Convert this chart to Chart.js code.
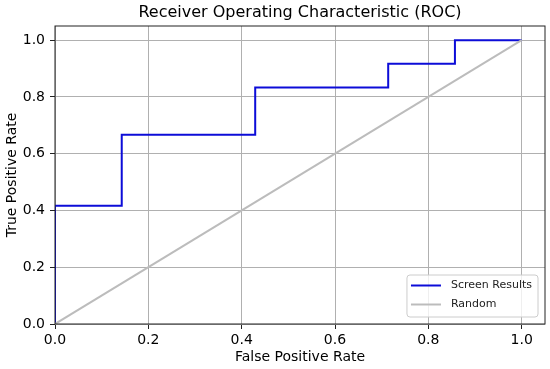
<!DOCTYPE html>
<html>
<head>
<meta charset="utf-8">
<script src="https://cdn.jsdelivr.net/npm/chart.js@4.4.0/dist/chart.umd.min.js"></script>
<style>
  html, body { margin: 0; padding: 0; background: #fff; }
</style>
</head>
<body>
<canvas id="rocChart" width="550" height="369"></canvas>
<script>
// ROC curve points (step curve as returned by roc_curve)
var fpr = [0, 0, 0.143, 0.143, 0.429, 0.429, 0.714, 0.714, 0.857, 0.857, 1.0];
var tpr = [0, 0.417, 0.417, 0.667, 0.667, 0.833, 0.833, 0.917, 0.917, 1.0, 1.0];
// diagonal reference
var randomX = [0, 1];
var randomY = [0, 1];

var xTicks = [0, 0.2, 0.4, 0.6, 0.8, 1.0];
var yTicks = [0, 0.2, 0.4, 0.6, 0.8, 1.0];
var axisMax = 1.05;

var chartTitle = 'Receiver Operating Characteristic (ROC)';
var xLabel = 'False Positive Rate';
var yLabel = 'True Positive Rate';
var seriesNames = ['Screen Results', 'Random'];
var seriesColors = ['#0c0cd8', '#bcbcbc'];

var FONT = '"DejaVu Sans", sans-serif';

function points(xs, ys) {
  return xs.map(function(x, i) { return { x: x, y: ys[i] }; });
}

// frame, title and legend the matplotlib way
var decorPlugin = {
  id: 'decor',
  afterDraw: function(chart) {
    var ctx = chart.ctx, a = chart.chartArea;
    ctx.save();

    ctx.strokeStyle = '#222';
    ctx.lineWidth = 1;
    ctx.strokeRect(a.left, a.top, a.right - a.left, a.bottom - a.top);

    ctx.fillStyle = '#000';
    ctx.font = '16px ' + FONT;
    ctx.textAlign = 'center';
    ctx.textBaseline = 'middle';
    ctx.fillText(chartTitle, (a.left + a.right) / 2, 13);

    // legend, lower right
    ctx.font = '11px ' + FONT;
    var ds = chart.data.datasets;
    var tw = 0;
    ds.forEach(function(d) { tw = Math.max(tw, ctx.measureText(d.label).width); });
    var w = 44 + tw + 6, h = 42;
    var right = a.right - 7, bottom = a.bottom - 7;
    var left = right - w, top = bottom - h;
    ctx.beginPath();
    ctx.roundRect(left, top, w, h, 3);
    ctx.fillStyle = 'rgba(255,255,255,0.8)';
    ctx.fill();
    ctx.strokeStyle = '#cccccc';
    ctx.stroke();

    ctx.textAlign = 'left';
    ds.forEach(function(d, i) {
      var y = top + 10.5 + i * 19;
      ctx.beginPath();
      ctx.moveTo(left + 4, y);
      ctx.lineTo(left + 34, y);
      ctx.strokeStyle = d.borderColor;
      ctx.lineWidth = 2;
      ctx.stroke();
      ctx.fillStyle = '#222';
      ctx.fillText(d.label, left + 44, y);
    });

    ctx.restore();
  }
};

function fixTicks(values) {
  return function(scale) {
    scale.ticks = values.map(function(v) { return { value: v }; });
  };
}

new Chart(document.getElementById('rocChart'), {
  type: 'scatter',
  data: {
    datasets: [{
      label: seriesNames[0],
      data: points(fpr, tpr),
      showLine: true,
      borderColor: seriesColors[0],
      borderWidth: 2,
      pointRadius: 0,
      order: 1
    }, {
      label: seriesNames[1],
      data: points(randomX, randomY),
      showLine: true,
      borderColor: seriesColors[1],
      borderWidth: 2,
      pointRadius: 0,
      order: 0
    }]
  },
  options: {
    responsive: false,
    animation: false,
    devicePixelRatio: 1,
    layout: { padding: { top: 26, right: 5, left: 0, bottom: 0 } },
    plugins: {
      legend: { display: false },
      tooltip: { enabled: false },
      title: { display: false }
    },
    scales: {
      x: {
        type: 'linear',
        min: 0,
        max: axisMax,
        afterBuildTicks: fixTicks(xTicks),
        afterFit: function(scale) { scale.height = 45; },
        grid: { color: '#b0b0b0', lineWidth: 1, tickColor: '#222', tickLength: 5 },
        border: { display: false },
        ticks: {
          color: '#000',
          font: { family: FONT, size: 14 },
          padding: 3,
          maxRotation: 0,
          callback: function(v) { return v.toFixed(1); }
        },
        title: {
          display: true,
          text: xLabel,
          color: '#000',
          font: { family: FONT, size: 14 },
          padding: { top: 0, bottom: 3 }
        }
      },
      y: {
        type: 'linear',
        min: 0,
        max: axisMax,
        afterBuildTicks: fixTicks(yTicks),
        afterFit: function(scale) { scale.width = 55; },
        grid: { color: '#b0b0b0', lineWidth: 1, tickColor: '#222', tickLength: 5 },
        border: { display: false },
        ticks: {
          color: '#000',
          font: { family: FONT, size: 14 },
          padding: 5,
          callback: function(v) { return v.toFixed(1); }
        },
        title: {
          display: true,
          text: yLabel,
          color: '#000',
          font: { family: FONT, size: 14 },
          padding: { top: 4, bottom: 0 }
        }
      }
    }
  },
  plugins: [decorPlugin]
});
</script>
</body>
</html>
